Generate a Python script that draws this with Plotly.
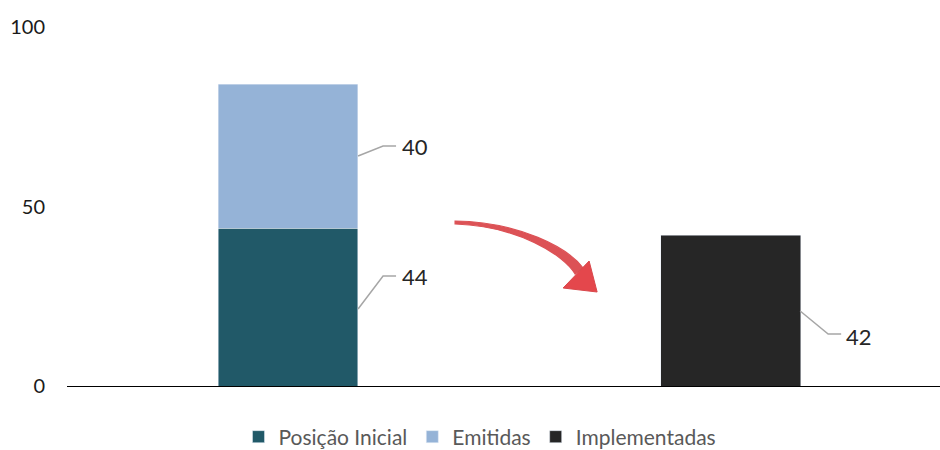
import plotly.graph_objects as go

categories = ["Antes", "Depois"]
posicao_inicial = [44, None]
emitidas = [40, None]
implementadas = [None, 42]
y_ticks = [0, 50, 100]

C_POS = "#215968"
C_EMI = "#95B3D7"
C_IMP = "#262626"
FONT = "Lato"

x_pos = [0, 1]
W = 0.316

fig = go.Figure()
fig.add_bar(x=x_pos, y=posicao_inicial, name="Posição Inicial", marker_color=C_POS, width=W)
fig.add_bar(x=x_pos, y=emitidas, name="Emitidas", marker_color=C_EMI, width=W)
fig.add_bar(x=x_pos, y=implementadas, name="Implementadas", marker_color=C_IMP, width=W)

# pixel -> data helpers (plot area: x 67..940, y 27..386)
def px_x(px):
    return (px - 288) / 442.5
def px_y(py):
    return (386 - py) / 3.59

shapes = []
annotations = []
def leader(points, text, lx, ly):
    path = "M " + " L ".join(f"{px_x(a)},{px_y(b)}" for a, b in points)
    shapes.append(dict(type="path", path=path, xref="x", yref="y",
                       line=dict(color="#A6A6A6", width=1.5)))
    annotations.append(dict(x=px_x(lx), y=px_y(ly), xref="x", yref="y", text=text,
                            showarrow=False, xanchor="left", yanchor="middle",
                            font=dict(family=FONT, size=22, color="#262626")))

leader([(358, 156), (383, 146), (396, 146)], str(emitidas[0]), 400, 146)
leader([(358, 309), (383, 276), (396, 276)], str(posicao_inicial[0]), 400, 276)
leader([(800, 311), (828, 334), (841, 334)], str(implementadas[1]), 844, 336)

# curved red arrow (tapered body + head)
body = (f"M {px_x(455)},{px_y(221)} "
        f"C {px_x(520)},{px_y(222)} {px_x(568)},{px_y(248)} {px_x(583)},{px_y(268)} "
        f"L {px_x(575)},{px_y(274)} "
        f"C {px_x(564)},{px_y(255)} {px_x(518)},{px_y(226)} {px_x(455)},{px_y(224)} Z")
shapes.append(dict(type="path", path=body, xref="x", yref="y",
                   fillcolor="#DC5256", line=dict(color="#DC5256", width=1.2)))
head = (f"M {px_x(563)},{px_y(288)} L {px_x(589)},{px_y(261)} L {px_x(597)},{px_y(292)} Z")
shapes.append(dict(type="path", path=head, xref="x", yref="y",
                   fillcolor="#E4474C", line=dict(color="#D9474B", width=1)))

fig.update_layout(
    barmode="stack",
    width=940, height=450,
    margin=dict(l=67, r=0, t=27, b=64, autoexpand=False),
    plot_bgcolor="white", paper_bgcolor="white",
    font=dict(family=FONT, size=21, color="#595959"),
    xaxis=dict(range=[-0.4994, 1.473], showticklabels=False, showgrid=False,
               zeroline=False, showline=True, linecolor="#000000", linewidth=1.2,
               ticks=""),
    yaxis=dict(range=[0, 100], tickvals=y_ticks, showgrid=False, zeroline=False,
               showline=False, ticklabelstandoff=21,
               tickfont=dict(family=FONT, size=20, color="#1a1a1a")),
    legend=dict(orientation="h", xref="container", x=480 / 940, xanchor="center",
                yref="container", y=13 / 450, yanchor="middle",
                font=dict(family=FONT, size=21, color="#595959"),
                itemwidth=30, traceorder="normal"),
    shapes=shapes,
    annotations=annotations,
    showlegend=True,
)

fig.write_html("out.html")
